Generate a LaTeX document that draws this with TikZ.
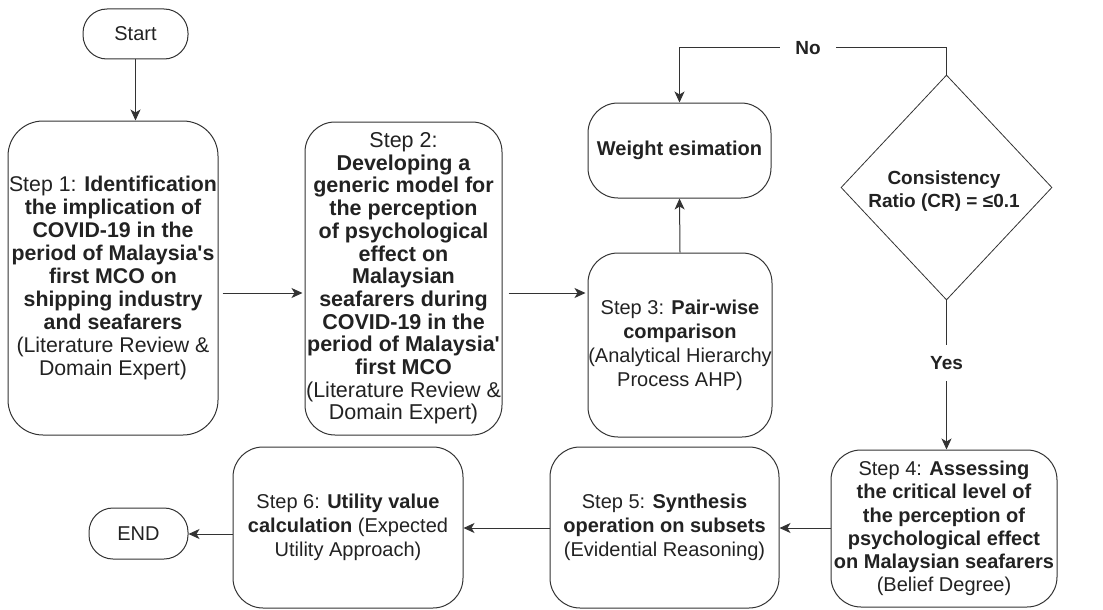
\documentclass[tikz,border=0pt]{standalone}
\usepackage{fontspec}
\setmainfont{Liberation Sans}[Ligatures=TeXOff]
\usetikzlibrary{shapes.geometric,arrows.meta}
\definecolor{ln}{HTML}{333333}
\definecolor{tx}{HTML}{222222}
\begin{document}
\begin{tikzpicture}[x=1pt,y=-1pt,
  box/.style={draw=ln, line width=1pt, rounded corners=30pt, align=center, inner sep=0pt, text=tx},
  term/.style={draw=ln, line width=1pt, rounded corners=24pt, align=center, inner sep=0pt, text=tx, font=\fontsize{20}{24}\selectfont},
  fB/.style={font=\fontsize{20}{24}\selectfont},
  flow/.style={draw=ln, line width=1pt, -{Stealth[length=11pt,width=10pt,inset=3pt]}},
  lbl/.style={fill=white, text=tx, font=\bfseries\fontsize{19}{23}\selectfont}]
\useasboundingbox (0,0) rectangle (1103,610);

\node[term, minimum width=105pt, minimum height=50pt] (start) at (135.5,34) {Start};
\node[box, rounded corners=35pt, font=\fontsize{21.3}{23}\selectfont, minimum width=210pt, minimum height=314pt] (s1) at (113,278)
 {Step 1: \textbf{Identification}\\ \textbf{the implication of}\\ \textbf{COVID-19 in the}\\ \textbf{period of Malaysia's}\\ \textbf{first MCO on}\\ \textbf{shipping industry}\\ \textbf{and seafarers}\\ (Literature Review \&\\ Domain Expert)};
\node[box, font=\fontsize{21.5}{22.7}\selectfont, minimum width=197pt, minimum height=313pt] (s2) at (403.5,278.5)
 {Step 2:\\ \textbf{Developing a}\\ \textbf{generic model for}\\ \textbf{the perception}\\ \textbf{of psychological}\\ \textbf{effect on}\\ \textbf{Malaysian}\\ \textbf{seafarers during}\\ \textbf{COVID-19 in the}\\ \textbf{period of Malaysia'}\\ \textbf{first MCO}\\ (Literature Review \&\\ Domain Expert)};
\node[box, fB, minimum width=184pt, minimum height=184pt] (s3) at (680,345)
 {Step 3: \textbf{Pair-wise}\\ \textbf{comparison}\\ (Analytical Hierarchy\\ Process AHP)};
\node[box, font=\bfseries\fontsize{20}{24}\selectfont, minimum width=183pt, minimum height=95pt] (w) at (679.5,150.5)
 {Weight esimation};
\node[diamond, draw=ln, line width=0.8pt, minimum width=211pt, minimum height=225pt, inner sep=0pt] (cr) at (946.5,187.5) {};
\node[align=center, text=tx, font=\bfseries\fontsize{19}{23.5}\selectfont] (crt) at (944,191) {Consistency\\ Ratio (CR) = ≤0.1};
\node[box, font=\fontsize{20}{23.3}\selectfont, minimum width=226pt, minimum height=157pt] (s4) at (944,528.5)
 {Step 4: \textbf{Assessing}\\ \textbf{the critical level of}\\ \textbf{the perception of}\\ \textbf{psychological effect}\\ \textbf{on Malaysian seafarers}\\ (Belief Degree)};
\node[box, fB, minimum width=229pt, minimum height=161pt] (s5) at (664.5,527.5)
 {Step 5: \textbf{Synthesis}\\ \textbf{operation on subsets}\\ (Evidential Reasoning)};
\node[box, fB, minimum width=230pt, minimum height=161pt] (s6) at (348,527.5)
 {Step 6: \textbf{Utility value}\\ \textbf{calculation} (Expected\\ Utility Approach)};
\node[term, minimum width=99pt, minimum height=51pt] (end) at (138.5,533.5) {END};

\draw[flow] (start.south) -- (start.south |- s1.north);
\draw[flow, shorten <=4pt, shorten >=2pt] (s1.east |- 0,293) -- (s2.west |- 0,293);
\draw[flow, shorten <=6pt, shorten >=2pt] (s2.east |- 0,293) -- (s3.west |- 0,293);
\draw[flow] (s3.north) -- (w.south);
\draw[flow] (cr.north) -- (cr.north |- 0,48) -- (w.north |- 0,48) -- (w.north);
\draw[flow] (cr.south) -- (cr.south |- s4.north);
\draw[flow] (s4.west |- 0,528) -- (s5.east |- 0,528);
\draw[flow] (s5.west |- 0,528) -- (s6.east |- 0,528);
\draw[flow] (s6.west |- 0,534) -- (end.east |- 0,534);

\node[lbl, inner xsep=15pt, inner ysep=2pt] (no) at (808,48) {No};
\node[lbl, inner xsep=2pt, inner ysep=11pt] (yes) at (946.5,363) {Yes};
\end{tikzpicture}
\end{document}
